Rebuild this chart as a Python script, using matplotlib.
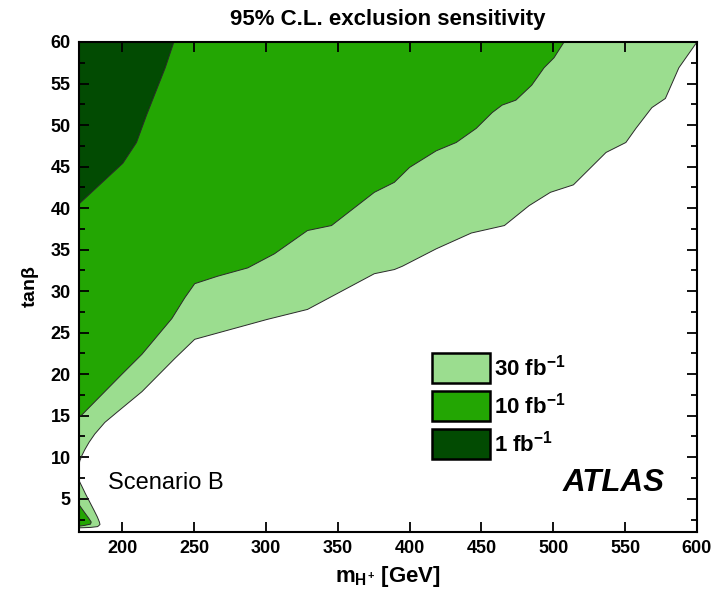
import matplotlib
matplotlib.use("Agg")
import matplotlib.pyplot as plt
from matplotlib.patches import Rectangle
import numpy as np

plt.rcParams['font.family'] = ['Liberation Sans', 'DejaVu Sans']
plt.rcParams['mathtext.fontset'] = 'custom'
plt.rcParams['mathtext.rm'] = 'Liberation Sans:bold'
plt.rcParams['mathtext.it'] = 'Liberation Sans:bold'
plt.rcParams['mathtext.bf'] = 'Liberation Sans:bold'

# ---- data: contour boundaries (m_H+ [GeV], tan beta) ----
# 30 fb^-1 boundary (upper region), from left edge to top-right corner
lum30_x = [170, 170.6, 172, 174, 177, 181, 188, 197, 213.8, 236.7, 250.5, 301, 329, 375.5, 389.4,
           395, 418.6, 443, 466, 483.2, 498, 514, 536.7, 550.5, 557.5, 568.6, 578, 587.4, 600]
lum30_y = [9.1, 9.6, 10.2, 10.9, 11.8, 12.8, 14.2, 15.5, 17.9, 21.9, 24.2, 26.6, 27.8, 32.1, 32.6,
           33.0, 35.1, 37.0, 37.9, 40.3, 41.9, 42.8, 46.7, 47.9, 49.6, 52.1, 53.2, 56.9, 60]
# 10 fb^-1 boundary
lum10_x = [170, 172, 199.9, 213.8, 234.6, 243.6, 250.5, 266.5, 287.4, 306, 329, 345.7,
           375.5, 389.4, 400, 418.6, 432.5, 446.4, 457.5, 464.4, 474, 485, 493.6, 500.5, 507.5]
lum10_y = [14.9, 15.1, 20.0, 22.4, 26.7, 29.2, 30.9, 31.8, 32.8, 34.5, 37.3, 37.9,
           41.9, 43.1, 44.9, 46.9, 47.9, 49.6, 51.5, 52.4, 53.0, 54.8, 56.9, 58.1, 60]
# 1 fb^-1 boundary
lum1_x = [170, 200.5, 210, 217, 230, 236]
lum1_y = [40.5, 45.4, 47.9, 51.2, 56.9, 60]
# low-tan(beta) islands
isl30_x = [170, 172, 174.5, 177.5, 180.5, 182.8, 184.2, 184.6, 183, 178, 170]
isl30_y = [7.2, 6.5, 5.6, 4.6, 3.6, 2.8, 2.2, 1.9, 1.65, 1.55, 1.5]
isl10_x = [170, 172, 174.5, 177, 178.5, 178, 174, 170]
isl10_y = [4.3, 3.8, 3.2, 2.6, 2.2, 1.95, 1.8, 1.7]

labels = ['30 fb$^{-1}$', '10 fb$^{-1}$', '1 fb$^{-1}$']
colors = ['#9bdd8f', '#23a603', '#024b02']
edge = '#2a2a2a'

fig = plt.figure(figsize=(7.27, 5.90), dpi=100)
ax = fig.add_axes([79/727, 1-532/590, 618/727, 490/590])
ax.set_xlim(170, 600)
ax.set_ylim(1, 60)

def region(xs, ys, color):
    px = list(xs) + [170]
    py = list(ys) + [60]
    ax.fill(px, py, color=color, lw=0, zorder=1)
    ax.plot(xs, ys, color=edge, lw=0.7, zorder=2)

region(lum30_x, lum30_y, colors[0])
region(lum10_x, lum10_y, colors[1])
region(lum1_x, lum1_y, colors[2])
ax.fill(isl30_x, isl30_y, color=colors[0], lw=0, zorder=1)
ax.plot(isl30_x, isl30_y, color=edge, lw=0.7, zorder=2)
ax.fill(isl10_x, isl10_y, color=colors[1], lw=0, zorder=1)
ax.plot(isl10_x, isl10_y, color=edge, lw=0.7, zorder=2)

# axes styling
for s in ax.spines.values():
    s.set_linewidth(1.5)
    s.set_zorder(5)
ax.set_xticks(np.arange(200, 601, 50))
ax.set_yticks(np.arange(5, 61, 5))
ax.set_yticks(np.arange(2.5, 60, 2.5), minor=True)
ax.tick_params(which='both', direction='in', top=True, right=True, width=1.3)
ax.tick_params(which='major', length=7, labelsize=13, pad=6)
ax.tick_params(which='minor', length=4)
for lab in ax.get_xticklabels() + ax.get_yticklabels():
    lab.set_fontweight('bold')

ax.set_title('95% C.L. exclusion sensitivity', fontsize=16, fontweight='bold', pad=12)
ax.set_xlabel('m$_{H^{+}}$ [GeV]', fontsize=16, fontweight='bold', labelpad=5)
ax.set_ylabel('tan$\\beta$', fontsize=14, fontweight='bold', labelpad=7)

ax.text(0.047, 0.10, 'Scenario B', transform=ax.transAxes, fontsize=17,
        va='center', ha='left', zorder=6)
ax.text(0.948, 0.10, 'ATLAS', transform=ax.transAxes, fontsize=22.5,
        fontweight='bold', fontstyle='italic', va='center', ha='right', zorder=6)

# legend boxes
bx, bw, bh = (432-79)/618, 58/618, 30/490
tops = [(532-353)/490, (532-391)/490, (532-429)/490]
for lab, col, t in zip(labels, colors, tops):
    ax.add_patch(Rectangle((bx, t-bh), bw, bh, transform=ax.transAxes,
                           facecolor=col, edgecolor='black', lw=1.8, zorder=6))
    ax.text(bx+bw+0.006, t-bh/2, lab, transform=ax.transAxes, fontsize=16,
            fontweight='bold', va='center', ha='left', zorder=6)

fig.savefig('out.png', dpi=100)
